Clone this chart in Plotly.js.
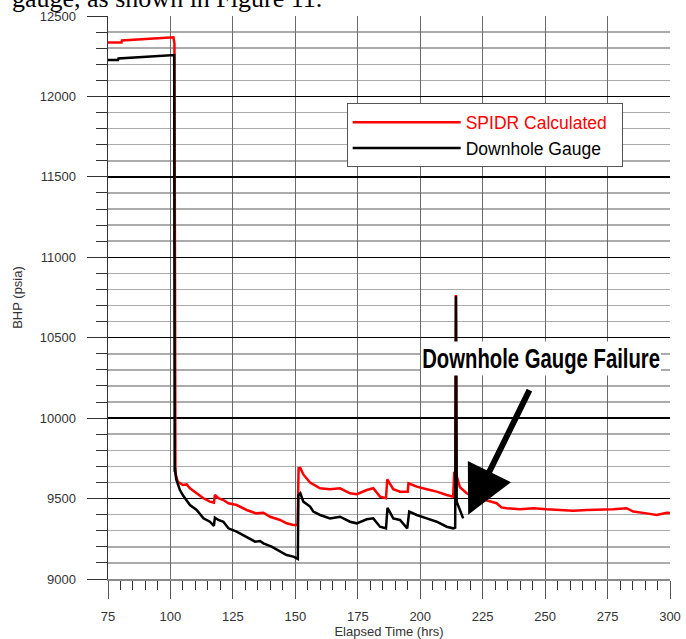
<!DOCTYPE html>
<html>
<head>
<meta charset="utf-8">
<script src="https://cdn.plot.ly/plotly-3.0.1.min.js"></script>
<style>html,body{margin:0;padding:0;background:#fff;}#chart{width:686px;height:639px;}</style>
</head>
<body>
<div id="chart"></div>
<script>
// SPIDR Calculated BHP (red)
var spidrTime = [75, 80.4, 80.6, 90, 95, 100.5, 101.2, 101.6, 101.8, 102.0, 102.9, 104, 105, 106.5, 107.8, 110.5, 113.2, 115.8, 117.4, 117.8, 119.2, 121.2, 123.2, 126.5, 130.5, 134.3, 137.2, 139.9, 143.9, 146.5, 149.2, 150.9, 151.3, 152.0, 153.2, 155.9, 159.9, 163.9, 167.9, 171.9, 174.6, 178.6, 181.2, 183.9, 186.3, 186.8, 189.2, 191.9, 194.6, 195.0, 195.3, 198.6, 202.6, 206.6, 210.6, 213.2, 213.6, 214.0, 214.3, 214.6, 215.9, 218.6, 221.3, 226.6, 230.6, 232.5, 234.6, 239.9, 245.3, 250.6, 255.9, 261.3, 266.6, 271.9, 277.3, 282.6, 285.3, 290.6, 294.7, 298.7, 300];
var spidrBHP = [12336, 12336, 12348, 12355, 12360, 12367, 12368, 12330, 9660, 9657, 9605, 9592, 9584, 9588, 9564, 9533, 9502, 9481, 9475, 9522, 9502, 9491, 9471, 9460, 9429, 9408, 9412, 9387, 9367, 9346, 9336, 9336, 9688, 9690, 9650, 9600, 9564, 9558, 9564, 9533, 9527, 9553, 9564, 9512, 9502, 9620, 9558, 9543, 9543, 9543, 9595, 9574, 9558, 9543, 9522, 9512, 9667, 9512, 10765, 9640, 9570, 9533, 9512, 9491, 9471, 9445, 9440, 9433, 9440, 9433, 9429, 9425, 9429, 9429, 9433, 9440, 9419, 9408, 9398, 9412, 9410];

// Downhole gauge BHP (black)
var gaugeTime = [75, 79, 79.2, 90, 100, 101.5, 101.7, 101.8, 102.3, 102.9, 103.8, 105, 106.5, 107.8, 110.5, 113.2, 115.8, 117.4, 117.8, 119.2, 121.2, 123.2, 126.5, 130.5, 133.9, 135.9, 137.2, 140.5, 143.9, 146.5, 149.2, 150.5, 151.0, 151.2, 152.0, 153.2, 155.9, 157.2, 159.9, 163.9, 167.9, 171.9, 174.6, 178.6, 181.2, 183.9, 186.3, 186.9, 189.2, 191.9, 194.8, 195.6, 198.6, 202.6, 206.6, 210.6, 213.2, 214.0, 214.3, 214.6, 215.9, 217.2];
var gaugeBHP = [12226, 12226, 12236, 12245, 12257, 12257, 9667, 9690, 9620, 9595, 9553, 9520, 9491, 9460, 9429, 9377, 9356, 9330, 9381, 9367, 9356, 9315, 9294, 9263, 9232, 9236, 9222, 9201, 9170, 9149, 9139, 9129, 9125, 9522, 9533, 9481, 9450, 9419, 9398, 9377, 9387, 9356, 9346, 9371, 9377, 9325, 9315, 9443, 9377, 9367, 9315, 9419, 9398, 9377, 9356, 9325, 9315, 9320, 10758, 9480, 9429, 9377];

var seriesNames = ['SPIDR Calculated', 'Downhole Gauge'];
var xTitle = 'Elapsed Time (hrs)';
var yTitle = 'BHP (psia)';
var calloutText = 'Downhole Gauge Failure';
var captionText = 'gauge, as shown in Figure 11.';

var traces = [
  {x: spidrTime, y: spidrBHP, type: 'scatter', mode: 'lines',
   name: '<span style="color:#ff0000">' + seriesNames[0] + '</span>\u00a0\u00a0',
   line: {color: '#ff0000', width: 2.5}},
  {x: gaugeTime, y: gaugeBHP, type: 'scatter', mode: 'lines',
   name: seriesNames[1],
   line: {color: '#000000', width: 2.5}}
];

var fontFam = 'Liberation Sans, Arial, sans-serif';
var layout = {
  width: 686, height: 639,
  margin: {l: 108, r: 16, t: 16, b: 60, pad: 0},
  paper_bgcolor: '#ffffff', plot_bgcolor: '#ffffff',
  font: {family: fontFam, color: '#222'},
  showlegend: true,
  legend: {x: 0.4247, y: 0.845, xanchor: 'left', yanchor: 'top',
    bgcolor: '#ffffff', bordercolor: '#555', borderwidth: 1,
    font: {family: fontFam, size: 17.5, color: '#000'}, itemwidth: 108},
  xaxis: {range: [75, 300], tick0: 75, dtick: 25, ticks: 'outside', ticklen: 18,
    tickcolor: '#555', tickwidth: 1, showgrid: true, gridcolor: '#6a6a6a', gridwidth: 1,
    showline: true, linecolor: '#8a8a8a', linewidth: 2, zeroline: false,
    tickfont: {size: 13, color: '#333'}, ticklabelstandoff: 6,
    minor: {dtick: 5, tick0: 75, ticks: 'outside', ticklen: 9, tickcolor: '#333', tickwidth: 1, showgrid: false},
    title: {text: xTitle, font: {size: 13, color: '#333'}, standoff: 4}},
  yaxis: {range: [9000, 12500], tick0: 9000, dtick: 500, tickformat: 'd', ticks: 'outside', ticklen: 20,
    tickcolor: '#333', tickwidth: 1, showgrid: true, gridcolor: '#000', gridwidth: 1.5,
    showline: true, linecolor: '#333', linewidth: 1.5, zeroline: false,
    tickfont: {size: 13, color: '#333'}, ticklabelstandoff: 8,
    minor: {dtick: 100, ticks: 'outside', ticklen: 11, tickcolor: '#333', tickwidth: 1,
      showgrid: true, gridcolor: '#ababab', gridwidth: 1.5},
    title: {text: yTitle, font: {size: 13, color: '#333'}, standoff: 14}},
  annotations: [
    {x: 248.4, y: 10371, xref: 'x', yref: 'y', text: calloutText, showarrow: false,
     font: {family: fontFam, size: 28, color: '#000', weight: 'bold'},
     bgcolor: '#ffffff', borderpad: 1},
    {x: 219.2, y: 9400, xref: 'x', yref: 'y', text: '', showarrow: true,
     ax: 62, ay: -126, axref: 'pixel', ayref: 'pixel', arrowhead: 2, arrowsize: 1.6, arrowwidth: 6,
     arrowcolor: '#000', standoff: 0},
    {x: -0.175, y: 1.0, xref: 'paper', yref: 'paper', xanchor: 'left', yanchor: 'bottom', yshift: 1,
     text: captionText, showarrow: false,
     font: {family: 'Liberation Serif, Times New Roman, serif', size: 26, color: '#000'}}
  ]
};

Plotly.newPlot('chart', traces, layout, {displayModeBar: false, staticPlot: true}).then(function (gd) {
  // condense the bold callout text horizontally (narrow typeface look)
  var ann = gd.querySelectorAll('.annotation')[0];
  if (!ann) return;
  var g = ann.querySelector('.annotation-text-g');
  if (!g) return;
  var bb = g.getBBox();
  var cx = bb.x + bb.width / 2, cy = bb.y + bb.height / 2;
  var prev = g.getAttribute('transform') || '';
  g.setAttribute('transform', prev + ' translate(' + cx + ',' + cy + ') scale(0.725,1) translate(' + (-cx) + ',' + (-cy) + ')');
});
</script>
</body>
</html>
